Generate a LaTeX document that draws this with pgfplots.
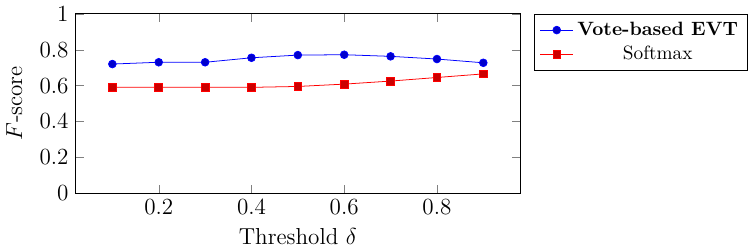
\documentclass[border=0pt]{standalone}
\usepackage{pgfplots}
\pgfplotsset{compat=1.18}
\begin{document}
\begin{tikzpicture}
\begin{axis}[
  scale only axis,
  width=231pt, height=93pt,
  xmin=0.02, xmax=0.98,
  ymin=0, ymax=1,
  xtick={0.2,0.4,0.6,0.8},
  ytick={0,0.2,0.4,0.6,0.8,1},
  tick label style={font=\large},
  label style={font=\large},
  xlabel={Threshold $\delta$},
  ylabel={$F$-score},
  ylabel style={yshift=2pt},
  legend pos=outer north east,
  legend cell align=center,
  legend style={font=\normalsize},
]
\addplot coordinates {(0.1,0.72) (0.2,0.73) (0.3,0.73) (0.4,0.755) (0.5,0.77) (0.6,0.772) (0.7,0.763) (0.8,0.748) (0.9,0.727)};
\addlegendentry{\textbf{Vote-based EVT}}
\addplot coordinates {(0.1,0.59) (0.2,0.59) (0.3,0.59) (0.4,0.59) (0.5,0.595) (0.6,0.608) (0.7,0.625) (0.8,0.645) (0.9,0.665)};
\addlegendentry{Softmax}
\end{axis}
\end{tikzpicture}
\end{document}
